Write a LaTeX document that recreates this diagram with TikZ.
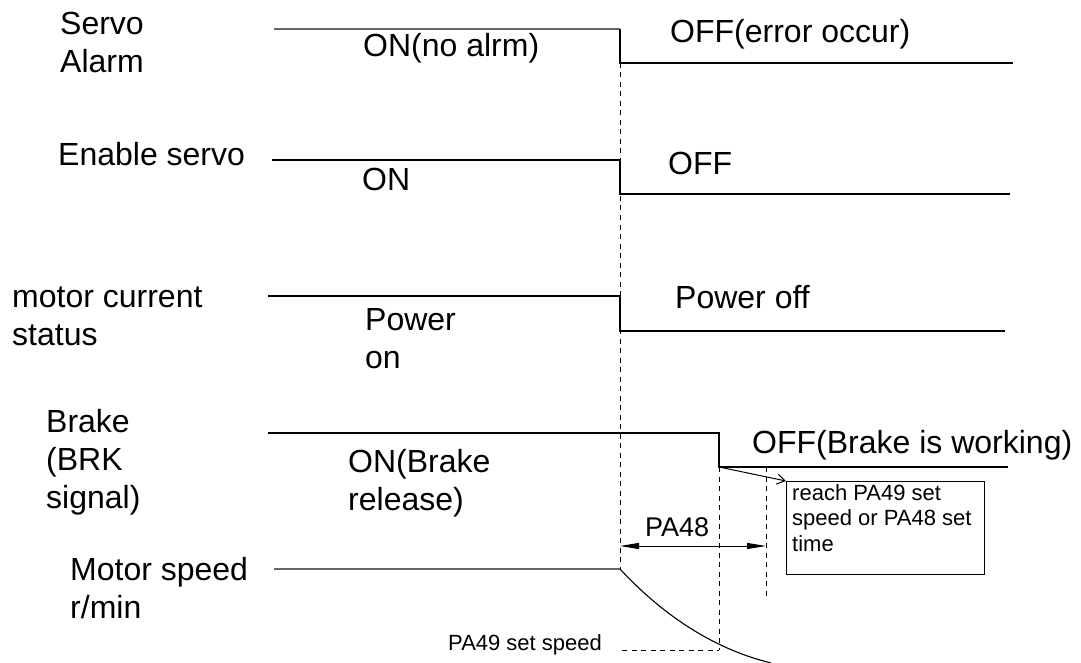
\documentclass[tikz,border=0pt]{standalone}
\usepackage{fontspec}
\setmainfont{Liberation Sans}
\usetikzlibrary{arrows.meta,positioning}
\tikzset{
  lbl/.style  ={anchor=base west, inner sep=0pt, align=left, font=\fontsize{32}{38}\selectfont},
  small/.style={anchor=base west, inner sep=0pt, align=left, font=\fontsize{22}{25.5}\selectfont},
  sig/.style  ={line width=1.1pt, draw=black},
  sigg/.style ={line width=1.6pt, draw=black!60},
  guide/.style={line width=1pt, dash pattern=on 5pt off 4.5pt},
  dim/.style  ={line width=1pt, {Triangle[length=19pt,width=6pt]}-{Triangle[length=19pt,width=6pt]}},
  notebox/.style={draw, line width=1pt, inner sep=0pt, anchor=north west,
                  minimum width=198pt, minimum height=93pt},
}
\begin{document}
\begin{tikzpicture}[x=1pt,y=-1pt]
\useasboundingbox (0,0) rectangle (1081,663);
% signal names (multi-line nodes sit on their last baseline)
\node[lbl] (alarm)   at (60,73)  {Servo\\Alarm};
\node[lbl] (enable)  at (58,166) {Enable servo};
\node[lbl] (current) at (12,345) {motor current\\status};
\node[lbl] (brake)   at (46,508) {Brake\\(BRK\\signal)};
\node[lbl] (speed)   at (70,618) {Motor speed\\r/min};
% levels
\draw[sigg] (274,29) -- (620,29);
\draw[sig] (620,29) -- (620,63) -- (1013,63);
\foreach \yh/\yl/\xs/\xe/\xd in {160/194/272/1010/620, 296/331/268/1005/620, 433/467/268/1008/719}
  \draw[sig] (\xs,\yh) -- (\xd,\yh) -- (\xd,\yl) -- (\xe,\yl);
\draw[sigg] (274,569) -- (620,569);
\draw[sig] (620,569) .. controls (660,612) and (710,648) .. (771,663);
% states
\node[lbl] (alarmon)   at (363,57)  {ON(no alrm)};
\node[lbl] (alarmoff)  at (670,43)  {OFF(error occur)};
\node[lbl] (enableon)  at (362,190) {ON};
\node[lbl] (enableoff) at (668,175) {OFF};
\node[lbl] (poweron)   at (365,368) {Power\\on};
\node[lbl] (poweroff)  at (675,308) {Power off};
\node[lbl] (brakeon)   at (348,510) {ON(Brake\\release)};
\node[lbl] (brakeoff)  at (752,453) {OFF(Brake is working)};
% timing guides
\draw[guide] (620,63) -- (620,569);
\draw[guide] (719,467) -- (719,650);
\draw[guide] (766,467) -- (766,597);
\draw[guide] (622,650) -- (719,650);
\coordinate (t0) at (620,546);
\coordinate (t1) at (766,546);
\draw[dim] (t0) -- (t1);
\node[lbl, font=\fontsize{27}{30}\selectfont] (pa48) at (645,536) {PA48};
\node[small] (pa49) at (448,650) {PA49 set speed};
% note
\node[notebox] (note) at (786,481) {};
\node[small] (notetxt) at (792,551) {reach PA49 set\\speed or PA48 set\\time};
\coordinate (brkoff) at (719,467);
\draw[line width=1pt, -{Straight Barb[length=8pt,width=10pt]}] (brkoff) -- (note.north west);
\end{tikzpicture}
\end{document}
